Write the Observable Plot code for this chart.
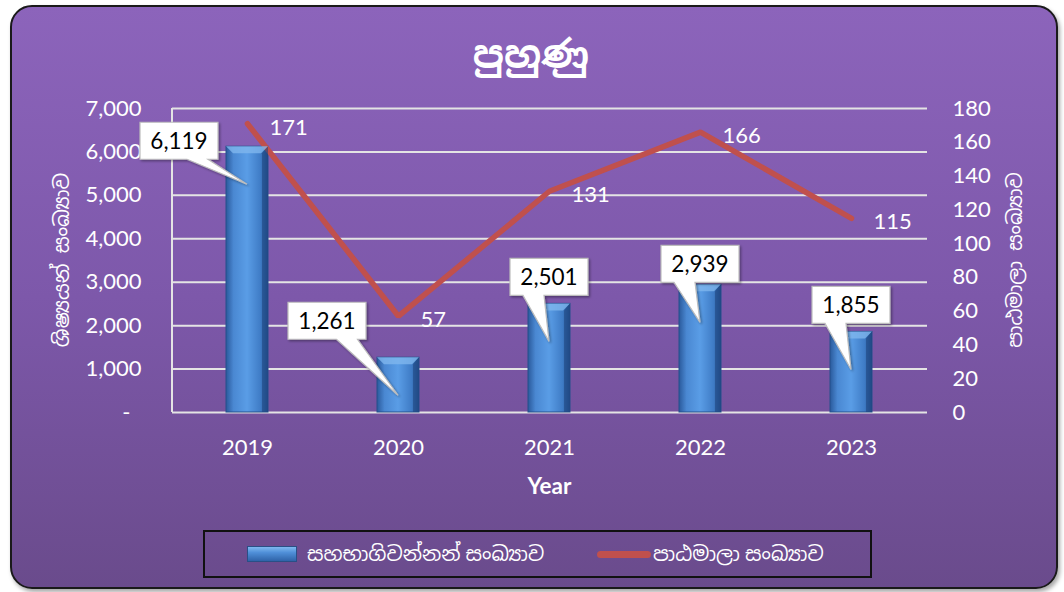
<!DOCTYPE html>
<html>
<head>
<meta charset="utf-8">
<script src="https://cdn.jsdelivr.net/npm/d3@7"></script>
<script src="https://cdn.jsdelivr.net/npm/@observablehq/plot@0.6"></script>
<style>
  html, body { margin: 0; padding: 0; background: #ffffff; }
  #wrap { position: relative; width: 1064px; height: 592px; overflow: hidden; font-family: Lato, "Noto Sans Sinhala", "Noto Sans", sans-serif; }
  #frame { position: absolute; left: 10px; top: 5px; width: 1044px; height: 580px; border: 2px solid #1a1a1a; border-radius: 22px;
           background: linear-gradient(to bottom, #8c64bb 0%, #7d58aa 50%, #6a4b8c 100%);
           box-shadow: 2px 3px 4px rgba(0,0,0,0.35); }
  #title { position: absolute; left: 381px; top: 30px; width: 300px; text-align: center; color: #fff; font-size: 38px; font-weight: bold; }
  #chart { position: absolute; left: 0; top: 0; }
  #legend { position: absolute; left: 203px; top: 530px; width: 665px; height: 44px; border: 2px solid #111; box-sizing: content-box; color: #fff; font-size: 20px; }
  .lg { position: absolute; top: 0; height: 44px; display: flex; align-items: center; }
  .sw-bar { width: 48px; height: 14px; background: linear-gradient(to bottom, #7fb8f0 0%, #4f8fd8 40%, #2f63a8 100%); border: 1px solid #2a4f86; margin-right: 10px; }
  .sw-line { width: 54px; height: 7px; border-radius: 3.5px; background: #c0504d; margin-right: 2px; }
</style>
</head>
<body>
<div id="wrap">
  <div id="frame"></div>
  <div id="title">පුහුණු</div>
  <div id="chart"></div>
  <div id="legend">
    <div class="lg" style="left:42px"><div class="sw-bar"></div><span>සහභාගිවන්නන් සංඛ්‍යාව</span></div>
    <div class="lg" style="left:392px"><div class="sw-line"></div><span>පාඨමාලා සංඛ්‍යාව</span></div>
  </div>
</div>
<script>
// ---- data ----
const years = ["2019", "2020", "2021", "2022", "2023"];
const participants = [6119, 1261, 2501, 2939, 1855];
const courses = [171, 57, 131, 166, 115];
const leftTicks = [0, 1000, 2000, 3000, 4000, 5000, 6000, 7000];
const rightTicks = [0, 20, 40, 60, 80, 100, 120, 140, 160, 180];
const leftTitle = "ශිෂ්‍යයන් සංඛ්‍යාව";
const rightTitle = "පාඨමාලා සංඛ්‍යාව";
const xTitle = "Year";

// callout layout (label box offsets relative to bar top/center)
const calloutDx = [-68, -71, 0, 0, 0];
const calloutDy = [-24, -55, -45, -39, -45];

const leftMax = 7000, rightMax = 180;
const k = leftMax / rightMax;
const data = years.map((year, i) => ({year, participants: participants[i], courses: courses[i]}));

const plot = Plot.plot({
  width: 1064,
  height: 520,
  marginLeft: 172,
  marginRight: 137,
  marginTop: 108,
  marginBottom: 108,
  style: {background: "transparent", color: "#fff", fontFamily: "Lato, sans-serif", fontSize: "22px", overflow: "visible"},
  x: {domain: years, paddingInner: 0.72, paddingOuter: 0.36, axis: null},
  y: {domain: [0, leftMax], axis: null},
  marks: [
    Plot.gridY(leftTicks, {stroke: "#e4e4e4", strokeOpacity: 1, strokeWidth: 2}),
    Plot.barY(data, {x: "year", y: "participants", fill: "url(#barGrad)", stroke: "#24508c", strokeWidth: 1}),
    Plot.line(data, {x: "year", y: d => d.courses * k, stroke: "#c0504d", strokeWidth: 5.5, strokeLinecap: "round", strokeLinejoin: "miter"}),
    Plot.text(data, {x: "year", y: d => d.courses * k, text: d => String(d.courses), dx: 22, dy: 4, textAnchor: "start", fill: "#fff", fontSize: 22}),
    Plot.axisX({tickSize: 0, tickPadding: 27, fontSize: 22, label: null}),
    Plot.axisY(leftTicks, {anchor: "left", tickSize: 0, tickPadding: 31, fontSize: 22, label: null,
      tickFormat: d => d === 0 ? "-\u2002" : d3.format(",")(d)}),
    Plot.axisY(rightTicks.map(v => v * k), {anchor: "right", tickSize: 0, tickPadding: 25, fontSize: 22, label: null,
      tickFormat: d => String(Math.round(d / k))})
  ]
});

document.getElementById("chart").appendChild(plot);

const svg = d3.select(plot);
const defs = svg.insert("defs", ":first-child");
const g = defs.append("linearGradient").attr("id", "barGrad").attr("x1", "0").attr("x2", "1").attr("y1", "0").attr("y2", "0");
[["0%", "#2a5a9c"], ["18%", "#4a88d2"], ["50%", "#5a9de6"], ["82%", "#3f7cc6"], ["100%", "#22508e"]]
  .forEach(([o, c]) => g.append("stop").attr("offset", o).attr("stop-color", c));
const sh = defs.append("filter").attr("id", "shadow").attr("x", "-20%").attr("y", "-20%").attr("width", "140%").attr("height", "140%");
sh.append("feDropShadow").attr("dx", 1.5).attr("dy", 1.5).attr("stdDeviation", 1.2).attr("flood-color", "#000").attr("flood-opacity", 0.35);

const xs = plot.scale("x"), ys = plot.scale("y");
const [yBottom, yTop] = ys.range;
const xLeft = 172, xRight = 1064 - 137;

// left axis line
svg.append("line").attr("x1", xLeft).attr("x2", xLeft).attr("y1", yTop).attr("y2", yBottom)
  .attr("stroke", "#e4e4e4").attr("stroke-width", 2);

// bar bevel
data.forEach(d => {
  const x0 = xs.apply(d.year), w = xs.bandwidth, yt = ys.apply(d.participants);
  svg.append("path")
    .attr("d", `M${x0},${yt} L${x0 + w},${yt} L${x0 + w - 7},${yt + 7} L${x0 + 7},${yt + 7} Z`)
    .attr("fill", "#7fb6ee").attr("opacity", 0.8);
  svg.append("path")
    .attr("d", `M${x0 + w},${yt} L${x0 + w},${yBottom} L${x0 + w - 6},${yBottom} L${x0 + w - 6},${yt + 7} Z`)
    .attr("fill", "#1f4680").attr("opacity", 0.6);
});

// callouts for participants
const fmt = d3.format(",");
data.forEach((d, i) => {
  const cx = xs.apply(d.year) + xs.bandwidth / 2;
  const yt = ys.apply(d.participants);
  const bw = 78, bh = 37;
  const bcx = cx + calloutDx[i];
  const bl = bcx - bw / 2, bt = yt + calloutDy[i], bb = bt + bh;
  const tipX = cx, tipY = yt + 38;
  const b1 = bl + 13 + 0.5 * (tipX - bcx), b2 = b1 + 21;
  svg.append("path")
    .attr("d", `M${bl},${bt} L${bl + bw},${bt} L${bl + bw},${bb} L${b2},${bb} L${tipX},${tipY} L${b1},${bb} L${bl},${bb} Z`)
    .attr("fill", "#fff").attr("stroke", "#bdbdbd").attr("stroke-width", 1.2).attr("filter", "url(#shadow)");
  svg.append("text").attr("x", bcx).attr("y", bt + bh / 2 + 8).attr("text-anchor", "middle")
    .attr("fill", "#000").attr("font-size", 22.5).attr("font-family", "Lato, sans-serif").text(fmt(d.participants));
});

// axis titles
svg.append("text").attr("transform", `translate(69,${(yTop + yBottom) / 2}) rotate(-90)`)
  .attr("text-anchor", "middle").attr("fill", "#fff").attr("font-size", 20.5)
  .attr("font-family", "'Noto Sans Sinhala', Lato, sans-serif").text(leftTitle);
svg.append("text").attr("transform", `translate(1022,${(yTop + yBottom) / 2}) rotate(-90)`)
  .attr("text-anchor", "middle").attr("fill", "#fff").attr("font-size", 20)
  .attr("font-family", "'Noto Sans Sinhala', Lato, sans-serif").text(rightTitle);
svg.append("text").attr("x", (xLeft + xRight) / 2).attr("y", 494).attr("text-anchor", "middle")
  .attr("fill", "#fff").attr("font-size", 22.5).attr("font-weight", "bold").attr("font-family", "Lato, sans-serif").text(xTitle);
</script>
</body>
</html>
